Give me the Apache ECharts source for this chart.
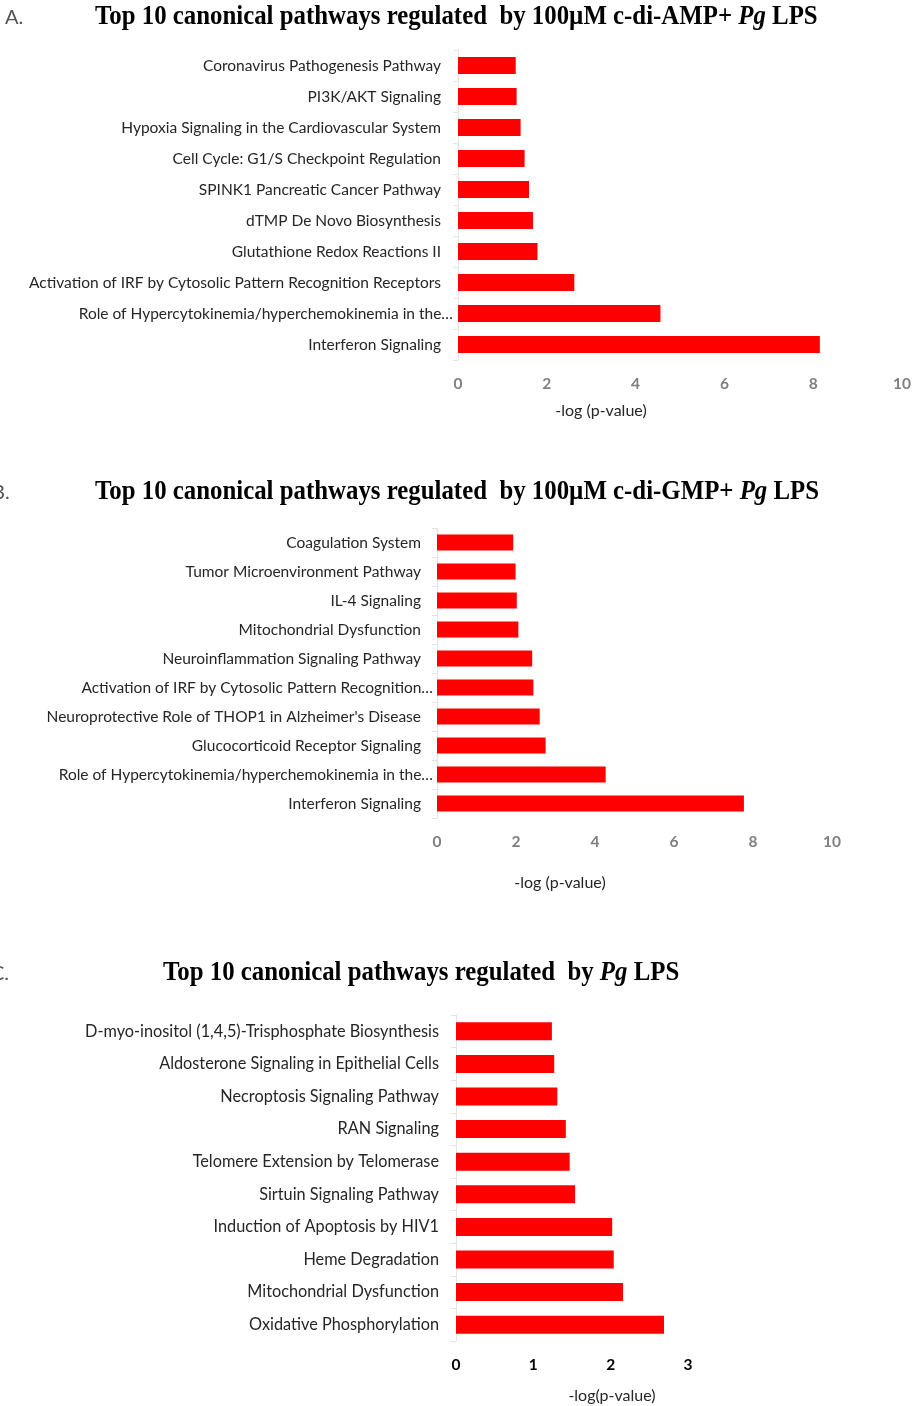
<!DOCTYPE html>
<html>
<head>
<meta charset="utf-8">
<script src="https://cdn.jsdelivr.net/npm/echarts@6/dist/echarts.min.js"></script>
<style>
  html, body { margin: 0; padding: 0; background: #ffffff; }
  #chart { width: 916px; height: 1406px; }
</style>
</head>
<body>
<div id="chart"></div>
<script>
// Panel A: 100µM c-di-AMP + Pg LPS
const categoriesA = [
  'Coronavirus Pathogenesis Pathway',
  'PI3K/AKT Signaling',
  'Hypoxia Signaling in the Cardiovascular System',
  'Cell Cycle: G1/S Checkpoint Regulation',
  'SPINK1 Pancreatic Cancer Pathway',
  'dTMP De Novo Biosynthesis',
  'Glutathione Redox Reactions II',
  'Activation of IRF by Cytosolic Pattern Recognition Receptors',
  'Role of Hypercytokinemia/hyperchemokinemia in the…',
  'Interferon Signaling'
];
const valuesA = [1.30, 1.32, 1.41, 1.50, 1.60, 1.69, 1.79, 2.62, 4.56, 8.15];

// Panel B: 100µM c-di-GMP + Pg LPS
const categoriesB = [
  'Coagulation System',
  'Tumor Microenvironment Pathway',
  'IL-4 Signaling',
  'Mitochondrial Dysfunction',
  'Neuroinflammation Signaling Pathway',
  'Activation of IRF by Cytosolic Pattern Recognition…',
  'Neuroprotective Role of THOP1 in Alzheimer\'s Disease',
  'Glucocorticoid Receptor Signaling',
  'Role of Hypercytokinemia/hyperchemokinemia in the…',
  'Interferon Signaling'
];
const valuesB = [1.93, 1.99, 2.02, 2.06, 2.41, 2.44, 2.60, 2.75, 4.27, 7.77];

// Panel C: Pg LPS alone
const categoriesC = [
  'D-myo-inositol (1,4,5)-Trisphosphate Biosynthesis',
  'Aldosterone Signaling in Epithelial Cells',
  'Necroptosis Signaling Pathway',
  'RAN Signaling',
  'Telomere Extension by Telomerase',
  'Sirtuin Signaling Pathway',
  'Induction of Apoptosis by HIV1',
  'Heme Degradation',
  'Mitochondrial Dysfunction',
  'Oxidative Phosphorylation'
];
const valuesC = [1.24, 1.27, 1.31, 1.42, 1.47, 1.54, 2.02, 2.04, 2.16, 2.69];

const axisNameA = '-log (p-value)';
const axisNameB = '-log (p-value)';
const axisNameC = '-log(p-value)';

const LABEL_FONT = 'Lato, "Open Sans", sans-serif';
const TITLE_FONT = '"Liberation Serif", "Times New Roman", serif';

const chart = echarts.init(document.getElementById('chart'), null, { renderer: 'canvas' });

// Labels cut short with an ellipsis run a little past the others
function catLabel(v) {
  return v.endsWith('…') ? '{e|' + v + '}' : '{n|' + v + '}';
}
function catAxis(gridIndex, cats, margin, pad, size) {
  return {
    type: 'category', gridIndex: gridIndex, data: cats, inverse: true,
    axisLine: { show: true, lineStyle: { color: '#e3e3e3', width: 1 } },
    axisTick: { show: true, length: 5, lineStyle: { color: '#e3e3e3' } },
    axisLabel: {
      interval: 0, margin: margin, formatter: catLabel,
      rich: {
        n: { fontFamily: LABEL_FONT, fontSize: size, color: '#262626', padding: [0, pad, 0, 0] },
        e: { fontFamily: LABEL_FONT, fontSize: size, color: '#262626' }
      }
    }
  };
}
function valAxis(gridIndex, max, interval, color, margin) {
  return {
    type: 'value', gridIndex: gridIndex, min: 0, max: max, interval: interval,
    axisLine: { show: false }, axisTick: { show: false }, splitLine: { show: false },
    axisLabel: { fontFamily: LABEL_FONT, fontSize: 15.5, fontWeight: 'bold', color: color, margin: margin }
  };
}
function barSeries(idx, values, width) {
  return {
    type: 'bar', xAxisIndex: idx, yAxisIndex: idx, data: values,
    barWidth: width, itemStyle: { color: '#ff0000' }, animation: false
  };
}
function titleText(x, y, pre, post) {
  return {
    type: 'text', x: x, y: y, scaleX: 0.92,
    style: {
      text: '{a|' + pre + '}{i|Pg}{a|' + post + '}',
      rich: {
        a: { fontFamily: TITLE_FONT, fontSize: 27, fontWeight: 'bold', fill: '#000' },
        i: { fontFamily: TITLE_FONT, fontSize: 27, fontWeight: 'bold', fontStyle: 'italic', fill: '#000' }
      },
      verticalAlign: 'middle'
    }
  };
}
function plainText(x, y, text, size, color, align) {
  return {
    type: 'text', x: x, y: y,
    style: { text: text, fontFamily: LABEL_FONT, fontSize: size, fill: color, align: align || 'left', verticalAlign: 'middle' }
  };
}

chart.setOption({
  backgroundColor: '#ffffff',
  animation: false,
  grid: [
    { left: 458, width: 444, top: 50, height: 310 },
    { left: 437, width: 395, top: 528, height: 290 },
    { left: 456, width: 232, top: 1015, height: 326 }
  ],
  xAxis: [
    valAxis(0, 10, 2, '#7f7f7f', 16),
    valAxis(1, 10, 2, '#7f7f7f', 16),
    valAxis(2, 3, 1, '#000000', 16)
  ],
  yAxis: [
    catAxis(0, categoriesA, 5, 12, 15.5),
    catAxis(1, categoriesB, 4, 12, 15.5),
    catAxis(2, categoriesC, 17, 0, 16.3)
  ],
  series: [
    barSeries(0, valuesA, 17),
    barSeries(1, valuesB, 16),
    barSeries(2, valuesC, 18)
  ],
  graphic: [
    plainText(5, 18, 'A.', 20, '#555555'),
    plainText(-8, 493, 'B.', 20, '#555555'),
    plainText(-9, 974, 'C.', 20, '#555555'),
    titleText(95, 17, 'Top 10 canonical pathways regulated  by 100µM c-di-AMP+ ', ' LPS'),
    titleText(95, 492, 'Top 10 canonical pathways regulated  by 100µM c-di-GMP+ ', ' LPS'),
    titleText(163, 973, 'Top 10 canonical pathways regulated  by ', ' LPS'),
    plainText(601, 411, axisNameA, 16, '#262626', 'center'),
    plainText(560, 883, axisNameB, 16, '#262626', 'center'),
    plainText(612, 1396, axisNameC, 16, '#262626', 'center')
  ]
});
</script>
</body>
</html>
